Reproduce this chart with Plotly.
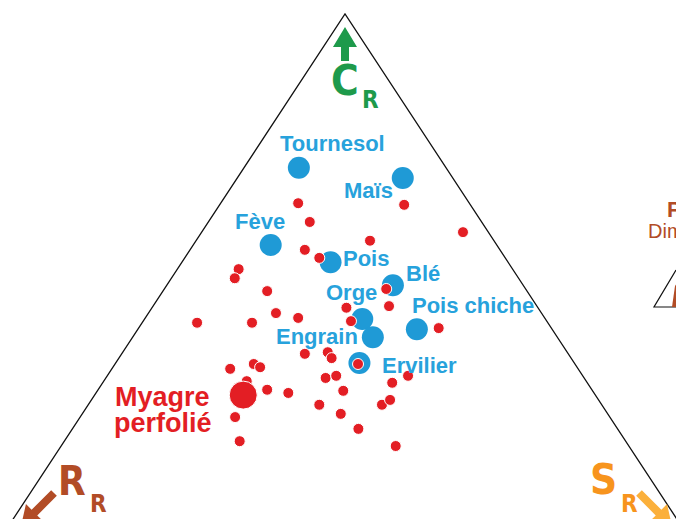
import math
import plotly.graph_objects as go

# ---------------- data (percent) : C = competitive, S = stress tolerant, R = 100 - C - S
crop_names = ["Tournesol", "Maïs", "Fève", "Pois", "Blé", "Orge", "Engrain", "Pois chiche", "Ervilier"]
crop_C = [71.3, 69.4, 56.9, 53.7, 49.4, 43.1, 39.7, 41.2, 34.9]
crop_S = [7.8, 23.5, 11.0, 21.1, 32.1, 30.9, 34.1, 39.6, 34.6]

weed_C = [64.7, 61.2, 64.4, 59.3, 57.7, 56.0, 54.5, 52.4, 50.7, 48.7, 48.3, 45.5, 45.2, 44.2,
          43.3, 42.4, 42.4, 42.7, 41.4, 36.6, 36.9, 35.8, 34.7, 33.8, 34.7, 34.1, 32.5, 32.1,
          32.5, 31.2, 29.7, 29.9, 29.3, 27.1, 25.4, 27.1, 28.0, 22.6, 24.8, 20.3, 19.4, 31.5]
weed_S = [11.0, 14.4, 26.2, 37.1, 24.7, 16.3, 19.1, 8.7, 9.0, 31.5, 14.8, 33.5, 27.6, 18.1,
          21.7, 7.8, 15.6, 29.5, 42.6, 26.0, 29.1, 30.2, 34.5, 16.8, 19.7, 20.9, 42.7, 31.2,
          32.5, 41.1, 34.9, 24.0, 27.3, 32.8, 36.7, 41.7, 42.4, 40.6, 22.0, 24.9, 47.5, 20.3]

myagre_name = ["Myagre", "perfolié"]
myagre_C = [28.9]
myagre_S = [21.1]

# triangle corners as (C, S) percentages: R corner, C corner, S corner, back to R
corner_C = [0, 100, 0, 0]
corner_S = [0, 0, 100, 0]

W, H = 676, 519
BLUE = "#1f9ad6"
BLUE_TXT = "#27a2dc"
RED = "#e31e24"
GREEN = "#1e9a4b"
BROWN = "#b24c26"
ORANGE = "#f7941d"
YELLOW = "#fbb03b"


def tern_xy(C, S):
    """ternary (C, S, R) -> cartesian position in the triangle (R at 0,0 ; S at 1,0 ; C at 0.5,1)"""
    xs = [(s + c / 2.0) / 100.0 for c, s in zip(C, S)]
    ys = [c / 100.0 for c in C]
    return xs, ys


def P(px, py):
    return px / W, 1 - py / H


fig = go.Figure()

tx, ty = tern_xy(corner_C, corner_S)
fig.add_trace(go.Scatter(x=tx, y=ty, mode="lines", line=dict(color="#111111", width=1.3),
                         hoverinfo="skip", showlegend=False))

cx, cy = tern_xy(crop_C, crop_S)
fig.add_trace(go.Scatter(x=cx, y=cy, mode="markers", text=crop_names,
                         marker=dict(size=22, color=BLUE, line=dict(width=0)), showlegend=False))

wx, wy = tern_xy(weed_C, weed_S)
fig.add_trace(go.Scatter(x=wx, y=wy, mode="markers",
                         marker=dict(size=11, color=RED, line=dict(width=1, color="white")),
                         showlegend=False))

mx, my = tern_xy(myagre_C, myagre_S)
fig.add_trace(go.Scatter(x=mx, y=my, mode="markers",
                         marker=dict(size=28, color=RED, line=dict(width=1, color="white")),
                         showlegend=False))

annotations = []


def label(text, px, py, size, color, bold=False, family="Liberation Sans, Arial, sans-serif",
          xanchor="center"):
    x, y = P(px, py)
    t = f"<b>{text}</b>" if bold else text
    annotations.append(dict(x=x, y=y, xref="paper", yref="paper", text=t, showarrow=False,
                            xanchor=xanchor, yanchor="middle",
                            font=dict(size=size, color=color, family=family)))


crop_label_pos = [(332, 143.5), (368, 190.5), (259.5, 221), (366, 258), (423, 273.5),
                  (351, 292.5), (317, 336.5), (472.5, 305), (419.5, 365.5)]
for name, (lx, ly) in zip(crop_names, crop_label_pos):
    label(name, lx, ly, 22, BLUE_TXT, bold=True)

label(myagre_name[0], 162.5, 397, 27, RED, bold=True)
label(myagre_name[1], 163, 423, 27, RED, bold=True)

COND = "DejaVu Sans Condensed, Liberation Sans, Arial, sans-serif"
label("C", 345, 81, 42, GREEN, bold=True, family=COND)
label("R", 360, 100, 24, GREEN, bold=True, family=COND, xanchor="left")
label("R", 72, 481, 40, BROWN, bold=True, family=COND)
label("R", 88, 504, 24, BROWN, bold=True, family=COND, xanchor="left")
label("S", 603, 479, 42, ORANGE, bold=True, family=COND)
label("R", 619, 504, 24, ORANGE, bold=True, family=COND, xanchor="left")

# partial legend at the right edge
label("P", 665, 209, 22, BROWN, bold=True, xanchor="left")
label("Dim", 646, 231, 20, BROWN, xanchor="left")


def to_path(pts, close=True):
    s = ""
    for i, (a, b) in enumerate(pts):
        xa, yb = P(a, b)
        s += ("M" if i == 0 else "L") + f"{xa:.5f},{yb:.5f} "
    return s + ("Z" if close else "")


def arrow_path(x0, y0, x1, y1, w, hw, hl):
    dx, dy = x1 - x0, y1 - y0
    L = math.hypot(dx, dy)
    ux, uy = dx / L, dy / L
    nx, ny = -uy, ux
    nk = (x1 - ux * hl, y1 - uy * hl)
    pts = [
        (x0 + nx * w / 2, y0 + ny * w / 2),
        (nk[0] + nx * w / 2, nk[1] + ny * w / 2),
        (nk[0] + nx * hw / 2, nk[1] + ny * hw / 2),
        (x1, y1),
        (nk[0] - nx * hw / 2, nk[1] - ny * hw / 2),
        (nk[0] - nx * w / 2, nk[1] - ny * w / 2),
        (x0 - nx * w / 2, y0 - ny * w / 2),
    ]
    return to_path(pts)


shapes = [
    dict(type="path", xref="paper", yref="paper", path=arrow_path(345, 61, 345, 27, 8, 24, 20),
         fillcolor=GREEN, line=dict(width=0)),
    dict(type="path", xref="paper", yref="paper", path=arrow_path(54, 493, 21, 526, 8, 24, 19),
         fillcolor=BROWN, line=dict(width=0)),
    dict(type="path", xref="paper", yref="paper", path=arrow_path(639, 493, 672, 526, 8, 24, 19),
         fillcolor=YELLOW, line=dict(width=0)),
    dict(type="path", xref="paper", yref="paper",
         path=to_path([(690, 307), (654, 307), (676, 270)], close=False),
         line=dict(color="#111111", width=1.2)),
    dict(type="path", xref="paper", yref="paper",
         path=to_path([(672, 307), (677, 307), (677, 283), (675, 286)]),
         fillcolor=BROWN, line=dict(width=0)),
]

# axis ranges chosen so the triangle sits where it does in the original figure
fig.update_layout(
    width=W, height=H,
    margin=dict(l=0, r=0, t=0, b=0),
    paper_bgcolor="white", plot_bgcolor="white",
    xaxis=dict(range=[0.01022, 0.96990], visible=False, fixedrange=True),
    yaxis=dict(range=[0.05784, 1.02612], visible=False, fixedrange=True),
    annotations=annotations,
    shapes=shapes,
    showlegend=False,
)

fig.write_html("out.html", config={"displayModeBar": False},
               post_script="document.body.style.margin='0';document.body.style.overflow='hidden';")
